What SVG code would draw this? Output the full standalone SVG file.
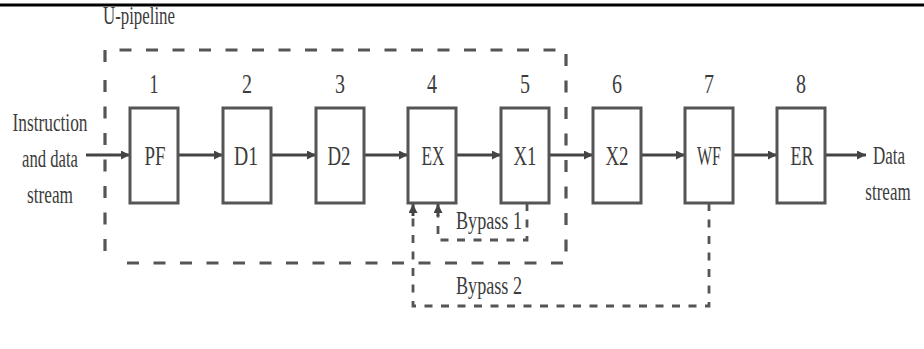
<svg xmlns="http://www.w3.org/2000/svg" width="924" height="349" viewBox="0 0 924 349">
<defs>
<marker id="ah" viewBox="0 0 10 10" refX="10" refY="5" markerWidth="11" markerHeight="9" markerUnits="userSpaceOnUse" orient="auto">
<path d="M0,0 L10,5 L0,10 z" fill="#444"/>
</marker>
<style>
text{font-family:"Liberation Serif","DejaVu Serif",serif;fill:#3c3c3c}
.box{fill:#fff;stroke:#555;stroke-width:3}
.lbl{font-size:27px;text-anchor:middle}
.num{font-size:27px;text-anchor:middle}
.side{font-size:25px}
.flow{stroke:#444;stroke-width:3;fill:none}
.ud{stroke:#555;stroke-width:3.2;fill:none;stroke-dasharray:12 14.5}
.bp{stroke:#555;stroke-width:2.8;fill:none;stroke-dasharray:8 8.5}
</style>
</defs>
<rect width="924" height="349" fill="#fff"/>
<line x1="0" y1="5" x2="924" y2="5" stroke="#000" stroke-width="3"/>

<g id="upipeline">
<text class="side" x="103" y="24" textLength="72" lengthAdjust="spacingAndGlyphs">U-pipeline</text>
<path class="ud" d="M105,62 L105,50 L566,50"/>
<path class="ud" d="M566,54 L566,263 L117,263"/>
<path class="ud" d="M105,80 L105,265"/>
</g>

<g id="input-label">
<text class="side" x="50" y="131" text-anchor="middle" textLength="75" lengthAdjust="spacingAndGlyphs">Instruction</text>
<text class="side" x="50" y="167" text-anchor="middle" textLength="56" lengthAdjust="spacingAndGlyphs">and data</text>
<text class="side" x="50" y="203" text-anchor="middle" textLength="46" lengthAdjust="spacingAndGlyphs">stream</text>
</g>
<g id="output-label">
<text class="side" transform="translate(889,164) scale(0.68,1)" x="0" y="0" text-anchor="middle">Data</text>
<text class="side" transform="translate(888,200) scale(0.68,1)" x="0" y="0" text-anchor="middle">stream</text>
</g>

<g id="connectors">
<line class="flow" x1="86" y1="155" x2="130" y2="155" marker-end="url(#ah)"/>
<line class="flow" x1="178" y1="155" x2="223" y2="155" marker-end="url(#ah)"/>
<line class="flow" x1="271" y1="155" x2="316" y2="155" marker-end="url(#ah)"/>
<line class="flow" x1="364" y1="155" x2="408" y2="155" marker-end="url(#ah)"/>
<line class="flow" x1="456" y1="155" x2="501" y2="155" marker-end="url(#ah)"/>
<line class="flow" x1="549" y1="155" x2="593" y2="155" marker-end="url(#ah)"/>
<line class="flow" x1="641" y1="155" x2="685" y2="155" marker-end="url(#ah)"/>
<line class="flow" x1="733" y1="155" x2="777" y2="155" marker-end="url(#ah)"/>
<line class="flow" x1="825" y1="155" x2="866" y2="155" marker-end="url(#ah)"/>
<path class="bp" d="M527,203 L527,240 L438,240 L438,215"/>
<line class="flow" x1="438" y1="216" x2="438" y2="204" marker-end="url(#ah)"/>
<path class="bp" d="M709,203 L709,306 L413,306 L413,215"/>
<line class="flow" x1="413" y1="216" x2="413" y2="204" marker-end="url(#ah)"/>
</g>

<g id="bypass-labels">
<text class="side" x="456" y="229" textLength="66" lengthAdjust="spacingAndGlyphs">Bypass 1</text>
<text class="side" x="456" y="294" textLength="66" lengthAdjust="spacingAndGlyphs">Bypass 2</text>
</g>

<g id="n1"><text class="num" x="154" y="93" textLength="9" lengthAdjust="spacingAndGlyphs">1</text><rect class="box" x="130" y="108" width="48" height="95"/><text class="lbl" x="155" y="165" textLength="21" lengthAdjust="spacingAndGlyphs">PF</text></g>
<g id="n2"><text class="num" x="247" y="93" textLength="10" lengthAdjust="spacingAndGlyphs">2</text><rect class="box" x="223" y="108" width="48" height="95"/><text class="lbl" x="246" y="165" textLength="24" lengthAdjust="spacingAndGlyphs">D1</text></g>
<g id="n3"><text class="num" x="340" y="93" textLength="10" lengthAdjust="spacingAndGlyphs">3</text><rect class="box" x="316" y="108" width="48" height="95"/><text class="lbl" x="339" y="165" textLength="23" lengthAdjust="spacingAndGlyphs">D2</text></g>
<g id="n4"><text class="num" x="432" y="93" textLength="10" lengthAdjust="spacingAndGlyphs">4</text><rect class="box" x="408" y="108" width="48" height="95"/><text class="lbl" x="433" y="165" textLength="23" lengthAdjust="spacingAndGlyphs">EX</text></g>
<g id="n5"><text class="num" x="525" y="93" textLength="10" lengthAdjust="spacingAndGlyphs">5</text><rect class="box" x="501" y="108" width="48" height="95"/><text class="lbl" x="525" y="165" textLength="23" lengthAdjust="spacingAndGlyphs">X1</text></g>
<g id="n6"><text class="num" x="617" y="93" textLength="10" lengthAdjust="spacingAndGlyphs">6</text><rect class="box" x="593" y="108" width="48" height="95"/><text class="lbl" x="617" y="165" textLength="23" lengthAdjust="spacingAndGlyphs">X2</text></g>
<g id="n7"><text class="num" x="709" y="93" textLength="10" lengthAdjust="spacingAndGlyphs">7</text><rect class="box" x="685" y="108" width="48" height="95"/><text class="lbl" x="709" y="165" textLength="24" lengthAdjust="spacingAndGlyphs">WF</text></g>
<g id="n8"><text class="num" x="801" y="93" textLength="10" lengthAdjust="spacingAndGlyphs">8</text><rect class="box" x="777" y="108" width="48" height="95"/><text class="lbl" x="802" y="165" textLength="23" lengthAdjust="spacingAndGlyphs">ER</text></g>
</svg>
